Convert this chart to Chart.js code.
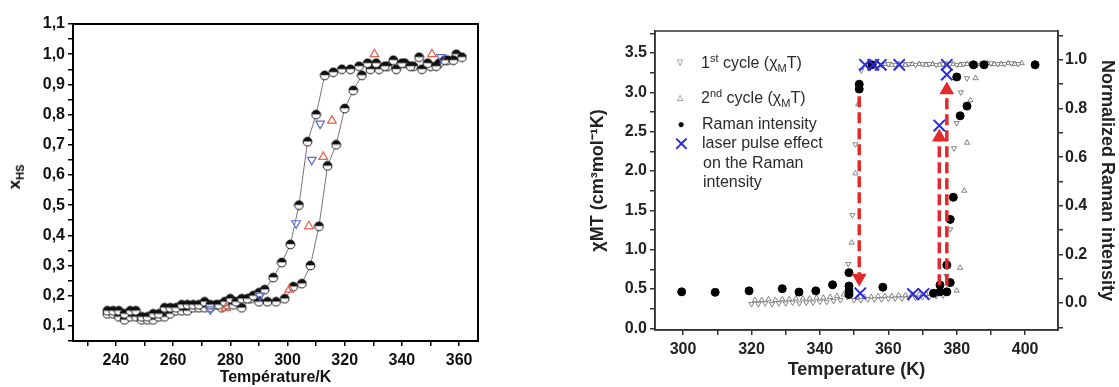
<!DOCTYPE html>
<html lang="fr">
<head>
<meta charset="utf-8">
<title>Transition de spin</title>
<script src="https://cdn.jsdelivr.net/npm/chart.js@4.4.1/dist/chart.umd.min.js"></script>
<style>
  html, body { margin: 0; padding: 0; background: #fff; }
  body { position: relative; width: 1119px; height: 387px; overflow: hidden; font-family: 'Liberation Sans', Arial, sans-serif; }
  canvas { position: absolute; top: 0; }
  #leftChart { left: 0; }
  #rightChart { left: 580px; }
  .rot { position: absolute; white-space: nowrap; font-weight: bold; line-height: 1; transform: translate(-50%, -50%) rotate(-90deg); }
  .leg { position: absolute; white-space: nowrap; font-size: 16px; color: #2a2a2a; line-height: 1; transform: translateY(-50%); }
  .leg sup, .leg sub { font-size: 11px; line-height: 0; }
  .sym { position: absolute; line-height: 1; transform: translate(-50%, -50%); }
</style>
</head>
<body>
<canvas id="leftChart" width="490" height="387"></canvas>
<canvas id="rightChart" width="539" height="387"></canvas>

<div class="rot" style="left:16px; top:177px; font-size:17px;">x<sub style="font-size:11px;">HS</sub></div>

<span class="sym" style="left:680px; top:63px; font-size:8px; color:#555;">▽</span>
<span class="leg" style="left:701px; top:63px;">1<sup>st</sup> cycle (χ<sub>M</sub>T)</span>
<span class="sym" style="left:680px; top:98px; font-size:8px; color:#555;">△</span>
<span class="leg" style="left:701px; top:98px;">2<sup>nd</sup> cycle (χ<sub>M</sub>T)</span>
<span class="sym" style="left:681px; top:124px; font-size:12px; color:#000;">●</span>
<span class="leg" style="left:702px; top:124px;">Raman intensity</span>
<span class="sym" style="left:681px; top:144px; font-size:20px; color:#2b2bdc;">✕</span>
<span class="leg" style="left:702px; top:143px;">laser pulse effect</span>
<span class="leg" style="left:703px; top:163px;">on the Raman</span>
<span class="leg" style="left:703px; top:182px;">intensity</span>

<script>
// ---- left panel : x_HS(T), two branches of the loop + triangle checks
const coolT = [237, 239, 241, 243, 245, 247, 249, 251, 253, 255, 257, 259, 261, 263, 265, 267, 269, 271, 273,
               276, 278, 280, 282, 284, 286, 288, 290, 292,
               295, 298, 301, 304, 307, 310, 313, 316, 319, 322, 325, 328, 331, 334, 337, 340, 343, 346, 349, 352, 355, 358, 361];
const coolX = [0.15, 0.15, 0.15, 0.14, 0.15, 0.15, 0.13, 0.13, 0.14, 0.14, 0.16, 0.16, 0.16, 0.17, 0.17, 0.17, 0.17, 0.18, 0.17,
               0.17, 0.18, 0.19, 0.18, 0.19, 0.19, 0.20, 0.21, 0.22,
               0.26, 0.31, 0.37, 0.50, 0.71, 0.80, 0.93, 0.94, 0.95, 0.95, 0.96, 0.97, 0.97, 0.96, 0.98, 0.97, 0.96, 0.99, 0.97, 0.96, 0.98, 0.98, 0.99];
const heatT = [237, 239, 241, 243, 245, 247, 249, 251, 253, 255, 257, 259, 261, 263, 265, 267, 269, 271, 273, 275, 277, 279, 281,
               284, 287, 290, 293, 296, 299, 302, 305, 308, 311, 314, 317, 320, 323, 326, 329, 332, 335, 338, 341, 344, 347, 350, 353, 356, 359];
const heatX = [0.14, 0.14, 0.13, 0.12, 0.13, 0.13, 0.12, 0.12, 0.12, 0.13, 0.13, 0.14, 0.15, 0.15, 0.15, 0.16, 0.16, 0.16, 0.16, 0.17, 0.16, 0.17, 0.17,
               0.16, 0.19, 0.18, 0.18, 0.18, 0.19, 0.23, 0.24, 0.30, 0.43, 0.63, 0.70, 0.82, 0.88, 0.93, 0.95, 0.95, 0.96, 0.95, 0.97, 0.96, 0.95, 0.96, 0.97, 0.98, 1.00];
const upT = [278.5, 300.6, 307.5, 312.5, 315.5, 330.4, 350.5];
const upX = [0.16, 0.22, 0.43, 0.66, 0.78, 1.00, 1.00];
const downT = [273, 290.4, 303, 308.5, 311.4, 353.7];
const downX = [0.155, 0.20, 0.44, 0.65, 0.77, 0.99];
const leftXLabels = [240, 260, 280, 300, 320, 340, 360];
const leftYLabels = [0.1, 0.2, 0.3, 0.4, 0.5, 0.6, 0.7, 0.8, 0.9, 1.0, 1.1];

// ---- right panel : chi_M T (left axis), Raman (right axis)
const cyc1T = [320, 322, 324, 326, 328, 330, 332, 334, 336, 338, 340, 342, 344, 346, 348,
               350, 352, 354, 356, 358, 360, 362, 364, 366, 368, 370, 372, 374, 376,
               348.3, 349.5, 350.4, 352.1, 377, 378.1, 379.2, 380, 381.2, 383,
               354, 356, 358, 360, 362, 364, 366, 368, 370, 372, 374, 376, 378, 380, 382, 384, 386, 388, 390, 392, 394, 396, 398];
const cyc1V = [0.31, 0.31, 0.32, 0.31, 0.32, 0.32, 0.33, 0.32, 0.33, 0.33, 0.34, 0.34, 0.35, 0.36, 0.40,
               0.36, 0.36, 0.37, 0.37, 0.37, 0.38, 0.38, 0.38, 0.39, 0.39, 0.40, 0.40, 0.41, 0.42,
               0.82, 1.44, 2.34, 3.28, 0.67, 1.26, 2.29, 2.61, 3.00, 3.18,
               3.35, 3.36, 3.35, 3.36, 3.35, 3.36, 3.36, 3.35, 3.36, 3.36, 3.35, 3.36, 3.36, 3.35, 3.36, 3.36, 3.35, 3.36, 3.37, 3.36, 3.36, 3.37, 3.36];
const cyc2T = [321, 323, 325, 327, 329, 331, 333, 335, 337, 339, 341, 343, 345, 347, 349,
               351, 353, 355, 357, 359, 361, 363, 365, 367, 369, 371, 373, 375, 377,
               349.3, 350.4, 351.2, 380, 381, 382.2, 383, 384, 385.5,
               355, 357, 359, 361, 363, 365, 367, 369, 371, 373, 375, 377, 379, 381, 383, 387, 389, 391, 393, 395, 397, 399];
const cyc2V = [0.36, 0.36, 0.37, 0.36, 0.37, 0.37, 0.38, 0.38, 0.38, 0.39, 0.39, 0.40, 0.41, 0.43, 0.47,
               0.39, 0.40, 0.40, 0.41, 0.41, 0.41, 0.42, 0.42, 0.43, 0.43, 0.44, 0.44, 0.45, 0.46,
               1.09, 1.97, 2.85, 0.48, 0.77, 1.75, 2.36, 2.90, 3.18,
               3.36, 3.35, 3.36, 3.35, 3.36, 3.35, 3.36, 3.36, 3.35, 3.36, 3.35, 3.36, 3.36, 3.35, 3.36, 3.36, 3.37, 3.36, 3.36, 3.37, 3.36, 3.37];
const ramanT = [299.6, 309.4, 319.3, 329, 333.9, 338.8, 343.7, 348.5, 348.5, 348.5, 348.5, 351.5, 351.5, 355.2, 358.4,
                373.2, 375.1, 375.1, 377.1, 377.1, 378.1, 378.1, 379, 380, 381, 383, 384.9, 388, 402.9];
const ramanV = [0.046, 0.044, 0.05, 0.059, 0.045, 0.05, 0.075, 0.125, 0.07, 0.05, 0.035, 0.90, 0.88, 0.98, 0.065,
                0.04, 0.046, 0.074, 0.046, 0.156, 0.344, 0.084, 0.435, 0.93, 0.77, 0.81, 0.98, 0.98, 0.98];
const laserT = [351.8, 353.2, 355.6, 357.8, 363.2, 367.2, 370.3, 374.9, 377.1, 377.1];
const laserV = [0.04, 0.98, 0.98, 0.98, 0.98, 0.037, 0.037, 0.73, 0.94, 0.98];
const arrowT = [351.5, 374.9, 377.1];
const arrowFrom = [2.95, 0.55, 0.55];
const arrowTo = [0.64, 2.43, 3.03];
const rightXLabels = [300, 320, 340, 360, 380, 400];
const rightYLabels = [0, 0.5, 1, 1.5, 2, 2.5, 3, 3.5];
const rightY2Labels = [0, 0.2, 0.4, 0.6, 0.8, 1.0];

const FONT = "'Liberation Sans', Arial, sans-serif";

function pts(xs, ys) {
    return xs.map((x, i) => ({ x: x, y: ys[i] }));
}

function hasLabel(list, v) {
    return list.some(l => Math.abs(l - v) < 1e-6);
}

// half black / half white circle used by the left panel
function halfDot() {
    const c = document.createElement('canvas');
    c.width = 11;
    c.height = 11;
    const g = c.getContext('2d');
    g.beginPath(); g.arc(5.5, 5.5, 4.4, Math.PI, 0); g.closePath(); g.fillStyle = '#111'; g.fill();
    g.beginPath(); g.arc(5.5, 5.5, 4.4, 0, Math.PI); g.closePath(); g.fillStyle = '#fff'; g.fill();
    g.beginPath(); g.arc(5.5, 5.5, 4.4, 0, 2 * Math.PI); g.strokeStyle = '#111'; g.lineWidth = 1; g.stroke();
    return c;
}

// box around the plot area
const frameBox = {
    id: 'frameBox',
    afterDraw(chart, args, opts) {
        const { ctx, chartArea: a } = chart;
        ctx.save();
        ctx.strokeStyle = opts.color;
        ctx.lineWidth = opts.width;
        ctx.strokeRect(a.left, a.top, a.right - a.left, a.bottom - a.top);
        ctx.restore();
    }
};

const dot = halfDot();

function tickFont(size) {
    return { family: FONT, size: size, weight: 'bold' };
}

new Chart(document.getElementById('leftChart'), {
    type: 'scatter',
    data: {
        datasets: [
            { data: pts(upT, upX), pointStyle: 'triangle', pointRadius: 5, pointBorderWidth: 1.2,
              borderColor: '#e8604c', backgroundColor: 'rgba(255,255,255,0)' },
            { data: pts(downT, downX), pointStyle: 'triangle', pointRotation: 180, pointRadius: 5, pointBorderWidth: 1.2,
              borderColor: '#5a6ad8', backgroundColor: 'rgba(255,255,255,0)' },
            { data: pts(coolT, coolX), showLine: true, borderColor: '#777', borderWidth: 1,
              pointStyle: dot, pointRadius: 5 },
            { data: pts(heatT, heatX), showLine: true, borderColor: '#777', borderWidth: 1,
              pointStyle: dot, pointRadius: 5 }
        ]
    },
    options: {
        responsive: false,
        animation: false,
        layout: { padding: { top: 24, right: 12, left: 0, bottom: 0 } },
        plugins: {
            legend: { display: false },
            tooltip: { enabled: false },
            frameBox: { color: '#000', width: 2 }
        },
        scales: {
            x: {
                type: 'linear',
                min: 225,
                max: 366.6,
                afterFit: s => { s.height = 46; },
                border: { color: '#000', width: 2 },
                grid: { drawOnChartArea: false, tickLength: 5, color: '#000', lineWidth: 1.5 },
                ticks: {
                    stepSize: 10, autoSkip: false, includeBounds: false, maxRotation: 0, padding: 5,
                    color: '#111', font: tickFont(16),
                    callback: v => hasLabel(leftXLabels, v) ? String(v) : ''
                },
                title: {
                    display: true, text: 'Température/K', color: '#111',
                    font: { family: FONT, size: 16, weight: 'bold', lineHeight: 1 },
                    padding: { top: 0, bottom: 1 }
                }
            },
            y: {
                type: 'linear',
                min: 0.05,
                max: 1.1,
                afterFit: s => { s.width = 73; },
                border: { color: '#000', width: 2 },
                grid: { drawOnChartArea: false, tickLength: 5, color: '#000', lineWidth: 1.5 },
                ticks: {
                    stepSize: 0.05, autoSkip: false, includeBounds: false, padding: 3,
                    color: '#111', font: tickFont(16),
                    callback: v => hasLabel(leftYLabels, v) ? v.toFixed(1).replace('.', ',') : ''
                }
            }
        }
    },
    plugins: [frameBox]
});

// red dashed arrows, one dataset each
const arrowSets = arrowT.map((t, i) => ({
    data: [{ x: t, y: arrowFrom[i] }, { x: t, y: arrowTo[i] }],
    yAxisID: 'y',
    showLine: true,
    borderColor: '#e32a2a',
    borderWidth: 3.5,
    borderDash: [11, 5],
    pointStyle: 'triangle',
    pointRadius: [0, 5],
    pointRotation: arrowTo[i] < arrowFrom[i] ? 180 : 0,
    pointBackgroundColor: '#e32a2a',
    pointBorderColor: '#e32a2a'
}));

new Chart(document.getElementById('rightChart'), {
    type: 'scatter',
    data: {
        datasets: [
            { data: pts(laserT, laserV), yAxisID: 'y2', pointStyle: 'crossRot', pointRadius: 8,
              pointBorderWidth: 2, borderColor: '#2b2bdc' },
            ...arrowSets,
            { data: pts(ramanT, ramanV), yAxisID: 'y2', pointStyle: 'circle', pointRadius: 4,
              backgroundColor: '#000', borderColor: '#000' },
            { data: pts(cyc1T, cyc1V), yAxisID: 'y', pointStyle: 'triangle', pointRotation: 180, pointRadius: 3,
              pointBorderWidth: 0.8, borderColor: '#666', backgroundColor: '#fff' },
            { data: pts(cyc2T, cyc2V), yAxisID: 'y', pointStyle: 'triangle', pointRadius: 3,
              pointBorderWidth: 0.8, borderColor: '#666', backgroundColor: '#fff' }
        ]
    },
    options: {
        responsive: false,
        animation: false,
        layout: { padding: { top: 31, right: 0, left: 0, bottom: 0 } },
        plugins: {
            legend: { display: false },
            tooltip: { enabled: false },
            frameBox: { color: '#333', width: 1.5 }
        },
        scales: {
            x: {
                type: 'linear',
                min: 291.8,
                max: 409.6,
                afterFit: s => { s.height = 57; },
                border: { color: '#333', width: 1.5 },
                grid: { drawOnChartArea: false, tickLength: 5, color: '#333', lineWidth: 1.5 },
                ticks: {
                    stepSize: 10, autoSkip: false, includeBounds: false, maxRotation: 0, padding: 5,
                    color: '#222', font: tickFont(16),
                    callback: v => hasLabel(rightXLabels, v) ? String(v) : ''
                },
                title: {
                    display: true, text: 'Temperature (K)', color: '#222',
                    font: { family: FONT, size: 18, weight: 'bold' },
                    padding: { top: 0, bottom: 6 }
                }
            },
            y: {
                type: 'linear',
                position: 'left',
                min: -0.02,
                max: 3.78,
                afterFit: s => { s.width = 75; },
                border: { color: '#333', width: 1.5 },
                grid: { drawOnChartArea: false, tickLength: 5, color: '#333', lineWidth: 1.5 },
                ticks: {
                    stepSize: 0.25, autoSkip: false, includeBounds: false, padding: 3,
                    color: '#222', font: tickFont(16),
                    callback: v => hasLabel(rightYLabels, v) ? v.toFixed(1) : ''
                },
                title: {
                    display: true, text: 'χMT (cm³mol⁻¹K)', color: '#222',
                    font: { family: FONT, size: 18, weight: 'bold' },
                    padding: { top: 7, bottom: 0 }
                }
            },
            y2: {
                type: 'linear',
                position: 'right',
                min: -0.111,
                max: 1.119,
                afterFit: s => { s.width = 61; },
                border: { color: '#333', width: 1.5 },
                grid: { drawOnChartArea: false, tickLength: 5, color: '#333', lineWidth: 1.5 },
                ticks: {
                    stepSize: 0.1, autoSkip: false, includeBounds: false, padding: 2,
                    color: '#222', font: tickFont(16),
                    callback: v => hasLabel(rightY2Labels, v) ? v.toFixed(1) : ''
                },
                title: {
                    display: true, text: 'Normalized Raman intensity', color: '#222',
                    font: { family: FONT, size: 18, weight: 'bold' },
                    padding: { top: 1, bottom: 0 }
                }
            }
        }
    },
    plugins: [frameBox]
});
</script>
</body>
</html>
